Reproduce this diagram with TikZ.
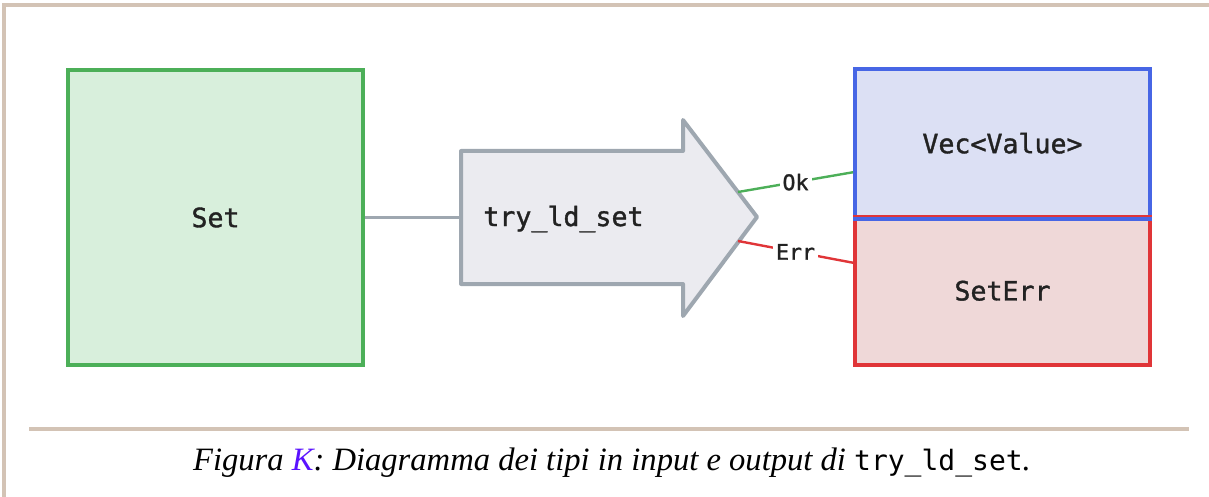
\documentclass[tikz,border=0pt]{standalone}
\usepackage{fontspec}
\setmainfont{Liberation Serif}
\setmonofont{DejaVu Sans Mono}
\newfontfamily\boxfont{DejaVu Sans Mono}[RawFeature={embolden=1.3}]
\usetikzlibrary{positioning,calc}
\definecolor{frameC}{HTML}{D3C3B5}
\definecolor{setD}{HTML}{4CAF58}
\definecolor{setF}{HTML}{D8EFDC}
\definecolor{okD}{HTML}{4766E5}
\definecolor{okF}{HTML}{DCE0F4}
\definecolor{errD}{HTML}{E03538}
\definecolor{errF}{HTML}{EFD8D8}
\definecolor{fnD}{HTML}{9EA7B0}
\definecolor{fnF}{HTML}{EBEBF0}
\definecolor{refC}{HTML}{5A12FF}
\definecolor{txtC}{HTML}{222222}

\begin{document}
\begin{tikzpicture}[x=0.5pt,y=-0.5pt,
    typebox/.style={draw=#1, line width=2pt, minimum width=147.5pt, inner sep=0pt,
      font=\boxfont\fontsize{13.3}{15}\selectfont, text=txtC},
    edgelbl/.style={fill=white, inner sep=1.5pt, font=\boxfont\fontsize{10.8}{12}\selectfont, text=txtC}]
    \useasboundingbox (0,0) rectangle (1209,497);
    % frame
    \draw[frameC, line width=1.6pt] (4,497) -- (4,5) -- (1209,5);
    \draw[frameC, line width=1.6pt] (29,429) -- (1189,429);

    % input type
    \node[typebox=setD, fill=setF, minimum height=147.5pt] (Set) at (215.5,217.5) {Set};

    % function
    \draw[fnD, fill=fnF, line width=2pt, line join=round]
      (461,151) -- (683,151) -- (683,120) -- (757,217) -- (683,316) -- (683,284) -- (461,284) -- cycle;
    \node[anchor=west, inner sep=0pt, font=\boxfont\fontsize{13.3}{15}\selectfont, text=txtC] (tryld) at (483,219) {try\_ld\_set};
    \coordinate (fnIn) at (461,217.5);
    \coordinate (fnOk) at (738,192);
    \coordinate (fnErr) at (738,241);

    % output types
    \node[typebox=okD, fill=okF, minimum height=73.75pt] (vec) at (1002.5,143.25) {Vec<Value>};
    \node[typebox=errD, fill=errF, minimum height=73.75pt] (seterr) at (1002.5,290.75) {SetErr};
    \draw[okD, line width=2pt] (vec.south west) -- (vec.south east);

    \draw[fnD, line width=1.2pt] (Set.east) -- (fnIn);
    \draw[setD, line width=1.2pt] (fnOk) -- node[edgelbl] {Ok} ($(vec.west)+(0,29)$);
    \draw[errD, line width=1.2pt] (fnErr) -- node[edgelbl] {Err} ($(seterr.west)+(0,-28)$);

    % caption
    \node[font=\itshape\fontsize{16.3}{20}\selectfont] (caption) at (612,463)
      {Figura {\color{refC}K}: Diagramma dei tipi in input e output di {\upshape\ttfamily\fontsize{14}{20}\selectfont try\_ld\_set}.};
\end{tikzpicture}
\end{document}
